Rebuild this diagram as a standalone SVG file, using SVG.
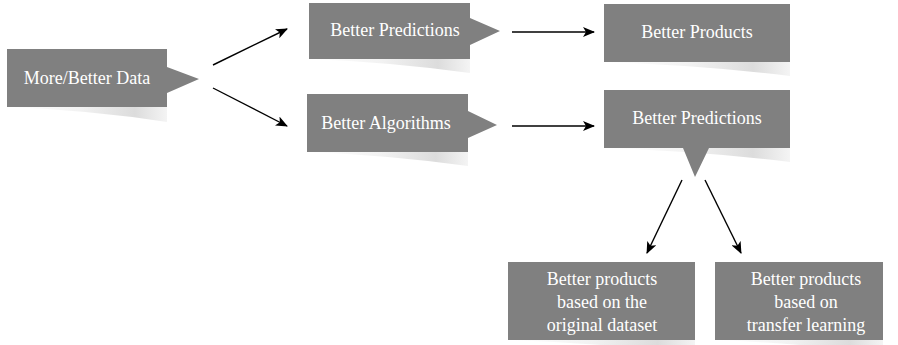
<svg xmlns="http://www.w3.org/2000/svg" width="898" height="345" viewBox="0 0 898 345">
<defs>
<linearGradient id="sh" x1="0" y1="0" x2="1" y2="0">
<stop offset="0" stop-color="#ffffff"/>
<stop offset="0.45" stop-color="#f2f2f2"/>
<stop offset="0.8" stop-color="#dcdcdc"/>
<stop offset="1" stop-color="#f4f4f4"/>
</linearGradient>
<marker id="ah" viewBox="0 0 12 10" refX="11" refY="5" markerWidth="12" markerHeight="10" markerUnits="userSpaceOnUse" orient="auto">
<path d="M0,0 L12,5 L0,10 L3,5 Z" fill="#000"/>
</marker>
<style>
.box{fill:#808080;}
.sh{fill:url(#sh);}
.t{fill:#ffffff;font-family:"Liberation Serif","Times New Roman",serif;font-size:18px;text-anchor:middle;}
.c{stroke:#000;stroke-width:1.4;fill:none;marker-end:url(#ah);}
</style>
</defs>
<rect width="898" height="345" fill="#ffffff"/>
<g id="connectors">
<line class="c" x1="213" y1="65" x2="287" y2="29"/>
<line class="c" x1="213" y1="88" x2="287" y2="126"/>
<line class="c" x1="512" y1="32" x2="594" y2="32"/>
<line class="c" x1="512" y1="126" x2="594" y2="126"/>
<line class="c" x1="682" y1="180" x2="647" y2="253"/>
<line class="c" x1="705" y1="180" x2="741" y2="253"/>
</g>
<g id="n-data">
<path class="sh" d="M7,107 L167,107 L167,122 Q90,110 7,107 Z"/>
<path class="box" d="M7,49 H167 V67 L199,79 L167,93 V107 H7 Z"/>
<text class="t" x="87" y="84">More/Better Data</text>
</g>
<g id="n-pred1">
<path class="sh" d="M309,59 L470,59 L470,73 Q390,62 309,59 Z"/>
<path class="box" d="M309,3 H470 V18 L500,31 L470,45 V59 H309 Z"/>
<text class="t" x="395" y="36">Better Predictions</text>
</g>
<g id="n-algo">
<path class="sh" d="M307,152 L468,152 L468,166 Q388,155 307,152 Z"/>
<path class="box" d="M307,94 H468 V111 L497,125 L468,138 V152 H307 Z"/>
<text class="t" x="386" y="129">Better Algorithms</text>
</g>
<g id="n-products">
<path class="sh" d="M604,62 L790,62 L790,76 Q700,65 604,62 Z"/>
<rect class="box" x="604" y="4" width="186" height="58"/>
<text class="t" x="697" y="38">Better Products</text>
</g>
<g id="n-pred2">
<path class="sh" d="M604,148 L790,148 L790,162 Q700,151 604,148 Z"/>
<path class="box" d="M604,90 H790 V148 H709 L695,177 L683,148 H604 Z"/>
<text class="t" x="697" y="124">Better Predictions</text>
</g>
<g id="n-orig">
<path class="sh" d="M508,340 L695,340 L695,354 Q600,343 508,340 Z"/>
<rect class="box" x="508" y="262" width="187" height="78"/>
<text class="t" x="602" y="285">Better products</text>
<text class="t" x="602" y="308">based on the</text>
<text class="t" x="602" y="331">original dataset</text>
</g>
<g id="n-transfer">
<path class="sh" d="M715,340 L883,340 L883,354 Q800,343 715,340 Z"/>
<rect class="box" x="715" y="262" width="168" height="78"/>
<text class="t" x="806" y="285">Better products</text>
<text class="t" x="806" y="308">based on</text>
<text class="t" x="806" y="331">transfer learning</text>
</g>
</svg>
